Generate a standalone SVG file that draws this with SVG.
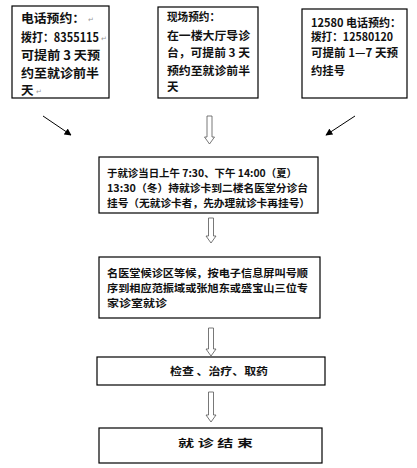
<svg xmlns="http://www.w3.org/2000/svg" width="417" height="468" viewBox="0 0 417 468">
<style>
.box{fill:#fff;stroke:#000;stroke-width:1.2}
.t{font-family:"Noto Sans CJK SC","Noto Sans",sans-serif;font-weight:bold;fill:#111}
.t13{font-size:12.5px}
.t12{font-size:11.5px}
.t11{font-size:10.5px}
.pm{font-family:"DejaVu Sans",sans-serif;font-size:7px;fill:#999;font-weight:normal}
.hol{fill:#fff;stroke:#555;stroke-width:0.8}
.ln{stroke:#000;stroke-width:1;fill:none}
</style>
<defs>
<marker id="ah" viewBox="0 0 10 10" refX="9" refY="5" markerWidth="7" markerHeight="7" markerUnits="userSpaceOnUse" orient="auto">
<path d="M0,0 L10,5 L0,10 Z" fill="#000"/>
</marker>
</defs>
<rect width="417" height="468" fill="#fff"/>

<g id="node-phone">
<rect class="box" x="12" y="6" width="97" height="92"/>
<text class="t t13" x="21" y="23" textLength="64" lengthAdjust="spacingAndGlyphs">电话预约：</text>
<text class="pm" x="88" y="22">↵</text>
<text class="t t13" x="21" y="42" textLength="78" lengthAdjust="spacingAndGlyphs">拨打：8355115</text>
<text class="pm" x="101" y="41">↵</text>
<text class="t t13" x="21" y="60" textLength="79" lengthAdjust="spacingAndGlyphs">可提前 3 天预</text>
<text class="t t13" x="21" y="78" textLength="78" lengthAdjust="spacingAndGlyphs">约至就诊前半</text>
<text class="t t13" x="21" y="95">天</text>
<text class="pm" x="36" y="94">↵</text>
</g>

<g id="node-onsite">
<rect class="box" x="158" y="7" width="100" height="91"/>
<text class="t t12" x="167" y="21" textLength="53" lengthAdjust="spacingAndGlyphs">现场预约：</text>
<text class="t t12" x="167" y="40" textLength="83" lengthAdjust="spacingAndGlyphs">在一楼大厅导诊</text>
<text class="t t12" x="167" y="57" textLength="83" lengthAdjust="spacingAndGlyphs">台，可提前 3 天</text>
<text class="t t12" x="167" y="75" textLength="83" lengthAdjust="spacingAndGlyphs">预约至就诊前半</text>
<text class="t t12" x="167" y="91">天</text>
</g>

<g id="node-12580">
<rect class="box" x="302" y="9" width="105" height="89"/>
<text class="t t12" x="311" y="27" textLength="90" lengthAdjust="spacingAndGlyphs">12580 电话预约：</text>
<text class="t t12" x="311" y="41" textLength="82" lengthAdjust="spacingAndGlyphs">拨打：12580120</text>
<text class="t t12" x="311" y="57" textLength="87" lengthAdjust="spacingAndGlyphs">可提前 1—7 天预</text>
<text class="t t12" x="311" y="75" textLength="34" lengthAdjust="spacingAndGlyphs">约挂号</text>
</g>

<g id="node-register">
<rect class="box" x="99" y="157" width="219" height="56"/>
<text class="t t11" x="107" y="177" textLength="190" lengthAdjust="spacingAndGlyphs">于就诊当日上午 7:30、下午 14:00（夏）</text>
<text class="t t11" x="107" y="192" textLength="201" lengthAdjust="spacingAndGlyphs">13:30（冬）持就诊卡到二楼名医堂分诊台</text>
<text class="t t11" x="107" y="207" textLength="203" lengthAdjust="spacingAndGlyphs">挂号（无就诊卡者，先办理就诊卡再挂号）</text>
</g>

<g id="node-wait">
<rect class="box" x="99" y="257" width="221" height="61"/>
<text class="t t11" x="107" y="277" textLength="201" lengthAdjust="spacingAndGlyphs">名医堂候诊区等候，按电子信息屏叫号顺</text>
<text class="t t11" x="107" y="292" textLength="201" lengthAdjust="spacingAndGlyphs">序到相应范振域或张旭东或盛宝山三位专</text>
<text class="t t11" x="107" y="307" textLength="60" lengthAdjust="spacingAndGlyphs">家诊室就诊</text>
</g>

<g id="node-treat">
<rect class="box" x="97" y="357" width="228" height="28"/>
<text class="t t11" x="170" y="375" textLength="98" lengthAdjust="spacingAndGlyphs">检查 、治疗、取药</text>
</g>

<g id="node-end">
<rect class="box" x="99" y="428" width="223" height="35"/>
<text class="t t11" x="178" y="447" textLength="75" lengthAdjust="spacingAndGlyphs">就 诊 结 束</text>
</g>

<g id="connectors">
<line class="ln" x1="43" y1="116" x2="71" y2="135" marker-end="url(#ah)"/>
<line class="ln" x1="355" y1="116" x2="326" y2="135" marker-end="url(#ah)"/>
<path class="hol" d="M207,116 L212,116 L212,137 L214.5,137 L209.5,144 L204.5,137 L207,137 Z"/>
<path class="hol" d="M208.5,218 L213.5,218 L213.5,236 L216,236 L211,243 L206,236 L208.5,236 Z"/>
<path class="hol" d="M208.5,328 L213.5,328 L213.5,349 L216,349 L211,356 L206,349 L208.5,349 Z"/>
<path class="hol" d="M208.5,392 L213.5,392 L213.5,415 L216,415 L211,422 L206,415 L208.5,415 Z"/>
</g>
</svg>
